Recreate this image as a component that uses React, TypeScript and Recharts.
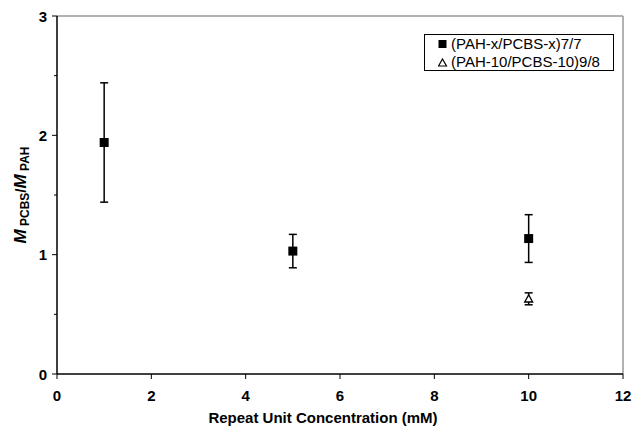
import React from "react";
import {
  ScatterChart,
  Scatter,
  XAxis,
  YAxis,
  ErrorBar,
  ReferenceLine,
} from "recharts";

const seriesANames = "(PAH-x/PCBS-x)7/7";
const seriesBNames = "(PAH-10/PCBS-10)9/8";

const seriesAX = [1, 5, 10];
const seriesAY = [1.94, 1.03, 1.135];
const seriesAErr = [0.5, 0.14, 0.2];

const seriesBX = [10];
const seriesBY = [0.63];
const seriesBErr = [0.05];

const xTicks = [0, 2, 4, 6, 8, 10, 12];
const yTicks = [0, 0.5, 1, 1.5, 2, 2.5, 3];

const dataA = seriesAX.map((x, i) => ({ x, y: seriesAY[i], err: seriesAErr[i] }));
const dataB = seriesBX.map((x, i) => ({ x, y: seriesBY[i], err: seriesBErr[i] }));

const FONT = "'Liberation Sans', Arial, sans-serif";

const SquareShape = (props: any) => {
  const { cx, cy } = props;
  if (cx == null || cy == null) return null;
  return <rect x={cx - 4.5} y={cy - 4.5} width={9} height={9} fill="#000" />;
};

const TriangleShape = (props: any) => {
  const { cx, cy } = props;
  if (cx == null || cy == null) return null;
  const s = 4;
  return (
    <polygon
      points={`${cx},${cy - s} ${cx + s},${cy + s * 0.8} ${cx - s},${cy + s * 0.8}`}
      fill="#fff"
      stroke="#000"
      strokeWidth={1.3}
    />
  );
};

const YTick = (props: any) => {
  const { y, payload } = props;
  const v = payload.value;
  const major = Number.isInteger(v);
  const axisX = 57;
  return (
    <g>
      <line x1={axisX} x2={axisX - (major ? 5 : 3)} y1={y} y2={y} stroke="#000" strokeWidth={1} />
      {major && (
        <text x={axisX - 10} y={y} textAnchor="end" dominantBaseline="central" fontFamily={FONT} fontSize={15} fontWeight="bold" fill="#000">
          {v}
        </text>
      )}
    </g>
  );
};

const XTick = (props: any) => {
  const { x, payload } = props;
  return (
    <text x={x} y={395} textAnchor="middle" dominantBaseline="central" fontFamily={FONT} fontSize={15} fontWeight="bold" fill="#000">
      {payload.value}
    </text>
  );
};

const YLabel = () => (
  <text
    x={0}
    y={0}
    transform="translate(26,195) rotate(-90)"
    textAnchor="middle"
    fontFamily={FONT}
    fontSize={15}
    fontWeight="bold"
    fill="#000"
  >
    <tspan fontStyle="italic" fontSize={17}>M</tspan>
    <tspan fontSize={12} dy={3}> PCBS</tspan>
    <tspan dy={-3}>/</tspan>
    <tspan fontStyle="italic" fontSize={17}>M</tspan>
    <tspan fontSize={12} dy={3}> PAH</tspan>
  </text>
);

const XLabel = () => (
  <text x={323} y={417} textAnchor="middle" dominantBaseline="central" fontFamily={FONT} fontSize={15} fontWeight="bold" fill="#000">
    Repeat Unit Concentration (mM)
  </text>
);

const LegendBox = () => (
  <div
    style={{
      position: "absolute",
      left: 424,
      top: 34,
      width: 190,
      height: 37,
      border: "1px solid #000",
      boxSizing: "border-box",
      background: "#fff",
      fontFamily: FONT,
      fontSize: 15,
      color: "#000",
      paddingLeft: 13,
      paddingTop: 0,
      lineHeight: "18px",
      whiteSpace: "nowrap",
    }}
  >
    <div style={{ display: "flex", alignItems: "center" }}>
      <svg width={10} height={10} style={{ marginRight: 3 }}>
        <rect x={0.5} y={1} width={8} height={8} fill="#000" />
      </svg>
      {seriesANames}
    </div>
    <div style={{ display: "flex", alignItems: "center" }}>
      <svg width={10} height={10} style={{ marginRight: 3 }}>
        <polygon points="4.5,2 8.5,9 0.5,9" fill="#fff" stroke="#000" strokeWidth={1.2} />
      </svg>
      {seriesBNames}
    </div>
  </div>
);

export default function App() {
  return (
    <div style={{ position: "absolute", left: 0, top: 0, width: 634, height: 430, background: "#fff" }}>
      <ScatterChart
        width={634}
        height={430}
        margin={{ top: 16, right: 11, bottom: 26, left: 17 }}
      >
        <XAxis
          type="number"
          dataKey="x"
          domain={[0, 12]}
          ticks={xTicks}
          interval={0}
          height={30}
          axisLine={{ stroke: "#000", strokeWidth: 1.5 }}
          tickLine={{ stroke: "#000" }}
          tickSize={5}
          tick={<XTick />}
          label={<XLabel />}
        />
        <YAxis
          type="number"
          dataKey="y"
          domain={[0, 3]}
          ticks={yTicks}
          interval={0}
          width={40}
          axisLine={{ stroke: "#000", strokeWidth: 1.5 }}
          tickLine={false}
          tick={<YTick />}
          label={<YLabel />}
        />
        <ReferenceLine y={3} stroke="#999" strokeWidth={1.5} ifOverflow="extendDomain" />
        <ReferenceLine x={12} stroke="#999" strokeWidth={1.5} ifOverflow="extendDomain" />
        <Scatter name={seriesANames} data={dataA} shape={<SquareShape />} fill="#000" isAnimationActive={false}>
          <ErrorBar dataKey="err" direction="y" width={4} stroke="#000" strokeWidth={1.5} isAnimationActive={false} />
        </Scatter>
        <Scatter name={seriesBNames} data={dataB} shape={<TriangleShape />} fill="#000" isAnimationActive={false}>
          <ErrorBar dataKey="err" direction="y" width={4} stroke="#000" strokeWidth={1.5} isAnimationActive={false} />
        </Scatter>
      </ScatterChart>
      <LegendBox />
    </div>
  );
}
